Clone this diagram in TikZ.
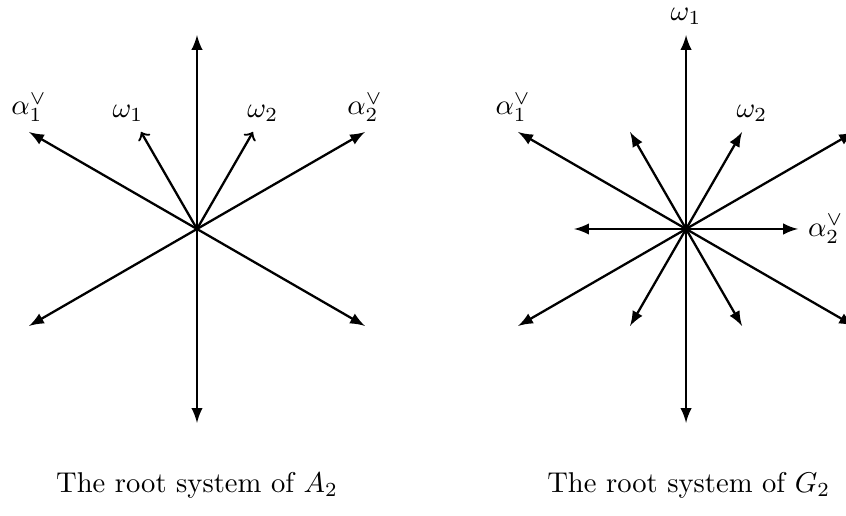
\documentclass[tikz,border=0pt]{standalone}
\usepackage{tkz-euclide}
\begin{document}
\begin{tikzpicture}[scale=1,>=latex]
\useasboundingbox (0,0) rectangle (10.393,6.327);
% root system A_2
\tkzDefPoint(2.42,3.514){O}
\tkzDefShiftPoint[O](30:2.383){A}
\tkzDefShiftPoint[O](90:2.383){B}
\tkzDefShiftPoint[O](150:2.383){C}
\tkzDefShiftPoint[O](210:2.383){D}
\tkzDefShiftPoint[O](270:2.383){E}
\tkzDefShiftPoint[O](330:2.383){F}
\tkzDefShiftPoint[O](120:1.376){W1}
\tkzDefShiftPoint[O](60:1.376){W2}
\tkzDrawSegments[thick,->](O,A O,B O,C O,D O,E O,F)
\tkzDrawSegments[thick,-to](O,W1 O,W2)
\tkzLabelPoint[above,name=la1](C){$\alpha_1^\vee$}
\tkzLabelPoint[above,name=la2](A){$\alpha_2^\vee$}
\tkzLabelPoint[above,xshift=-0.16cm,name=lw1](W1){$\omega_1$}
\tkzLabelPoint[above,xshift=0.12cm,name=lw2](W2){$\omega_2$}
\node (capA) at (2.42,0.369) {The root system of $A_2$};
% root system G_2
\tkzDefPoint(8.428,3.514){P}
\tkzDefShiftPoint[P](30:2.383){L1}
\tkzDefShiftPoint[P](90:2.383){L2}
\tkzDefShiftPoint[P](150:2.383){L3}
\tkzDefShiftPoint[P](210:2.383){L4}
\tkzDefShiftPoint[P](270:2.383){L5}
\tkzDefShiftPoint[P](330:2.383){L6}
\tkzDefShiftPoint[P](0:1.376){S1}
\tkzDefShiftPoint[P](60:1.376){S2}
\tkzDefShiftPoint[P](120:1.376){S3}
\tkzDefShiftPoint[P](180:1.376){S4}
\tkzDefShiftPoint[P](240:1.376){S5}
\tkzDefShiftPoint[P](300:1.376){S6}
\tkzDrawSegments[thick,->](P,L1 P,L2 P,L3 P,L4 P,L5 P,L6)
\tkzDrawSegments[thick,->](P,S1 P,S2 P,S3 P,S4 P,S5 P,S6)
\tkzLabelPoint[above,name=ma1,xshift=-0.06cm](L3){$\alpha_1^\vee$}
\tkzLabelPoint[right,name=ma2](S1){$\alpha_2^\vee$}
\tkzLabelPoint[above,name=mw1](L2){$\omega_1$}
\tkzLabelPoint[above,xshift=0.12cm,name=mw2](S2){$\omega_2$}
\node (capG) at (8.46,0.369) {The root system of $G_2$};
\end{tikzpicture}
\end{document}
